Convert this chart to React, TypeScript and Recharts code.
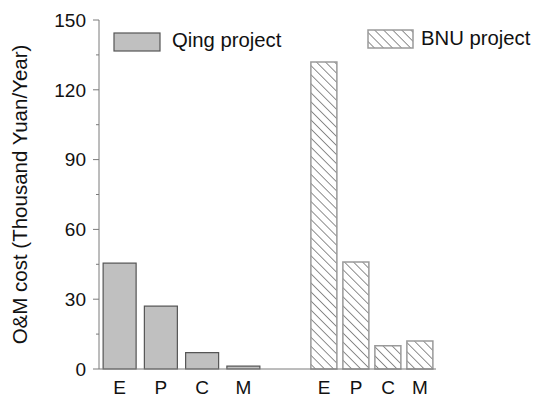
import React from 'react';
import { BarChart, Bar, XAxis, YAxis } from 'recharts';

const items = ['E', 'P', 'C', 'M'];
const qingCost = [45.5, 27, 7, 1.2];
const bnuCost = [132, 46, 10, 12];
const yTicks = [0, 15, 30, 45, 60, 75, 90, 105, 120, 135, 150];
const yLabeled = [0, 30, 60, 90, 120, 150];

const qingData = items.map((name, i) => ({ name, cost: qingCost[i] }));
const bnuData = items.map((name, i) => ({ name, cost: bnuCost[i] }));

const FONT = '"Liberation Sans", Arial, sans-serif';
const AXIS = '#7a7a7a';

const YTick = ({ x, y, payload }: any) => {
  const major = yLabeled.includes(payload.value);
  return (
    <g>
      <line x1={x - (major ? 6 : 3)} x2={x} y1={y} y2={y} stroke={AXIS} strokeWidth={1} />
      {major && (
        <text x={x - 13} y={y} dy="0.36em" textAnchor="end" fontSize={19} fill="#111" fontFamily={FONT}>
          {payload.value}
        </text>
      )}
    </g>
  );
};

// category letters under the bars
const XTick = ({ x, y, payload }: any) => (
  <text x={x} y={y} dy="0.72em" textAnchor="middle" fontSize={19} fill="#111" fontFamily={FONT}>
    {payload.value}
  </text>
);

const YTitle = ({ viewBox }: any) => {
  const cx = 27;
  const cy = viewBox.y + viewBox.height / 2;
  return (
    <text x={cx} y={cy} transform={`rotate(-90 ${cx} ${cy})`} textAnchor="middle" fontSize={20.5} fill="#111" fontFamily={FONT}>
      O&amp;M cost (Thousand Yuan/Year)
    </text>
  );
};

const Hatch = ({ id }: { id: string }) => (
  <pattern id={id} patternUnits="userSpaceOnUse" width={6.4} height={6.4} patternTransform="rotate(-45)">
    <line x1={0} y1={0} x2={0} y2={6.4} stroke="#444" strokeWidth={1.2} />
  </pattern>
);

export default function App() {
  return (
    <div style={{ position: 'absolute', left: 0, top: 0, width: 533, height: 396, background: '#fff', fontFamily: FONT }}>
      {/* Qing project group with the shared y axis */}
      <div style={{ position: 'absolute', left: 0, top: 0 }}>
        <BarChart width={310} height={396} data={qingData} margin={{ top: 20, right: 2, bottom: 0, left: 0 }} barCategoryGap="10%">
          <YAxis
            width={99}
            domain={[0, 150]}
            ticks={yTicks}
            interval={0}
            tickSize={0}
            tickMargin={0}
            tickLine={false}
            tick={<YTick />}
            stroke={AXIS}
            label={<YTitle />}
          />
          <XAxis
            dataKey="name"
            height={27}
            padding={{ left: 0, right: 44 }}
            tickLine={false}
            tickSize={0}
            tickMargin={11}
            tick={<XTick />}
            stroke={AXIS}
          />
          <Bar dataKey="cost" fill="#c0c0c0" stroke="#555" strokeWidth={1.2} isAnimationActive={false} />
        </BarChart>
      </div>
      {/* BNU project group */}
      <div style={{ position: 'absolute', left: 308, top: 0 }}>
        <BarChart width={225} height={396} data={bnuData} margin={{ top: 20, right: 97, bottom: 0, left: 0 }} barCategoryGap="9%">
          <defs>
            <Hatch id="bnuHatch" />
          </defs>
          <YAxis hide domain={[0, 150]} />
          <XAxis dataKey="name" height={27} tickLine={false} tickSize={0} tickMargin={11} tick={<XTick />} stroke={AXIS} />
          <Bar dataKey="cost" fill="url(#bnuHatch)" stroke="#9a9a9a" strokeWidth={1.5} isAnimationActive={false} />
        </BarChart>
      </div>
      {/* legend */}
      <svg width={533} height={396} style={{ position: 'absolute', left: 0, top: 0, pointerEvents: 'none' }}>
        <defs>
          <Hatch id="legendHatch" />
        </defs>
        <rect x={114} y={33} width={46} height={18} fill="#c0c0c0" stroke="#555" strokeWidth={1.2} />
        <text x={172} y={47} fontSize={20.3} fill="#111" fontFamily={FONT}>Qing project</text>
        <rect x={368} y={30} width={45} height={18} fill="url(#legendHatch)" stroke="#9a9a9a" strokeWidth={1.5} />
        <text x={421} y={45} fontSize={20.3} fill="#111" fontFamily={FONT}>BNU project</text>
      </svg>
    </div>
  );
}
